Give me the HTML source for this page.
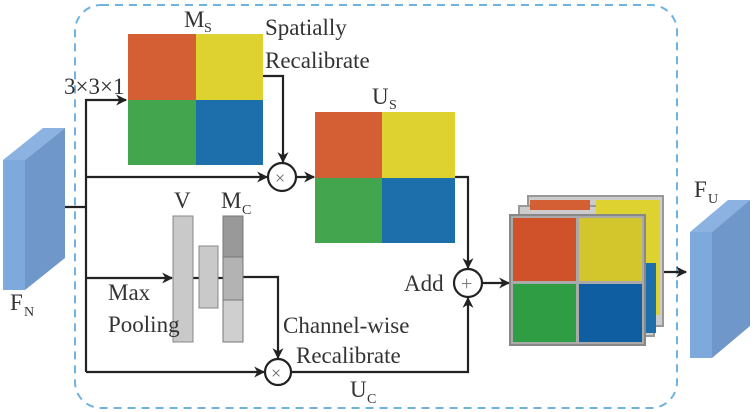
<!DOCTYPE html>
<html><head><meta charset="utf-8"><style>
html,body{margin:0;padding:0;background:#fff;}
svg{display:block;}
text{font-family:"Liberation Serif",serif;fill:#333;font-size:23px;}
.s{font-size:14px;}
</style></head><body>
<svg width="755" height="412" viewBox="0 0 755 412" xmlns="http://www.w3.org/2000/svg">
<defs>
<marker id="a" viewBox="0 0 10 10" refX="9" refY="5" markerWidth="13" markerHeight="11" orient="auto" markerUnits="userSpaceOnUse"><path d="M0,0 L10,5 L0,10 L3,5 z" fill="#222"/></marker>
</defs>
<rect x="75" y="5" width="602" height="403" rx="26" fill="none" stroke="#6fb3e0" stroke-width="2" stroke-dasharray="8,6"/>
<!-- F_N -->
<polygon points="3,160 25,160 65,128 43,128" fill="#8bb2e0"/>
<polygon points="25,160 65,128 65,258 25,290" fill="#6f97c9"/>
<rect x="3" y="160" width="22" height="130" fill="#7ea9dc"/>
<text x="10" y="310">F</text><text x="24" y="316" class="s">N</text>
<!-- M_S -->
<rect x="128" y="34" width="68" height="66" fill="#d55f34"/>
<rect x="196" y="34" width="67" height="66" fill="#ddd22f"/>
<rect x="128" y="100" width="68" height="65" fill="#43a64e"/>
<rect x="196" y="100" width="67" height="65" fill="#1c6fab"/>
<text x="184" y="27">M</text><text x="204" y="32" class="s">S</text>
<text x="265" y="35">Spatially</text>
<text x="265" y="68">Recalibrate</text>
<text x="64" y="94">3×3×1</text>
<g stroke="#222" stroke-width="2.2" fill="none">
<polyline points="65,207 86,207"/>
<polyline points="86,372 86,100 126,100" marker-end="url(#a)"/>
<polyline points="86,177 267,177" marker-end="url(#a)"/>
<polyline points="263,76 283,76 283,162" marker-end="url(#a)"/>
<polyline points="296,177 314,177" marker-end="url(#a)"/>
<polyline points="455,177 468,177 468,268" marker-end="url(#a)"/>
<polyline points="482,283 509,283" marker-end="url(#a)"/>
<polyline points="655,272 686,272" marker-end="url(#a)"/>
<polyline points="86,278 172,278" marker-end="url(#a)"/>
<polyline points="243,277 278,277 278,358" marker-end="url(#a)"/>
<polyline points="86,372 264,372" marker-end="url(#a)"/>
<polyline points="292,372 468,372 468,298" marker-end="url(#a)"/>
<line x1="193" y1="278" x2="199" y2="278"/><line x1="218" y1="278" x2="223" y2="278"/>
<circle cx="282" cy="177" r="14" fill="#fff"/>
<circle cx="468" cy="283" r="14" fill="#fff"/>
<circle cx="278" cy="372" r="13" fill="#fff"/>
</g>
<text x="275" y="184" style="font-size:18px;fill:#666">×</text>
<text x="271" y="379" style="font-size:18px;fill:#666">×</text>
<text x="461" y="290" style="font-size:20px;fill:#777">+</text>
<!-- U_S -->
<rect x="315" y="112" width="67" height="66" fill="#d55f34"/>
<rect x="382" y="112" width="73" height="66" fill="#ddd22f"/>
<rect x="315" y="178" width="67" height="65" fill="#43a64e"/>
<rect x="382" y="178" width="73" height="65" fill="#1c6fab"/>
<text x="372" y="104">U</text><text x="389" y="109" class="s">S</text>
<text x="404" y="291">Add</text>
<!-- bars -->
<rect x="173" y="216" width="20" height="126" fill="#c9c9c9" stroke="#888"/>
<rect x="199" y="246" width="19" height="62" fill="#c9c9c9" stroke="#888"/>
<rect x="223" y="216" width="20" height="41" fill="#999" stroke="#777"/>
<rect x="223" y="257" width="20" height="43" fill="#b3b3b3" stroke="#777"/>
<rect x="223" y="300" width="20" height="42" fill="#cfcfcf" stroke="#777"/>
<text x="174" y="208">V</text>
<text x="221" y="208">M</text><text x="242" y="214" class="s">C</text>
<text x="108" y="300">Max</text>
<text x="108" y="332">Pooling</text>
<text x="283" y="333">Channel-wise</text>
<text x="296" y="363">Recalibrate</text>
<text x="350" y="397">U</text><text x="367" y="403" class="s">C</text>
<!-- stack -->
<g stroke="#999" stroke-width="2">
<rect x="528" y="196" width="135" height="130" fill="#ccc"/>
<rect x="519" y="206" width="135" height="130" fill="#ccc"/>
</g>
<rect x="530" y="200" width="60" height="10" fill="#d55f34"/>
<rect x="596" y="200" width="64" height="115" fill="#ddd22f"/>
<rect x="640" y="263" width="16" height="70" fill="#1c6fab"/>
<rect x="510" y="215" width="135" height="130" fill="#aaa" stroke="#888" stroke-width="2"/>
<rect x="513" y="218" width="63" height="63" fill="#d0522a"/>
<rect x="579" y="218" width="63" height="63" fill="#d3c62c"/>
<rect x="513" y="284" width="63" height="58" fill="#2f9d44"/>
<rect x="579" y="284" width="63" height="58" fill="#0f5ea2"/>
<!-- F_U -->
<polygon points="690,232 712,232 750,200 728,200" fill="#8bb2e0"/>
<polygon points="712,232 750,200 750,326 712,358" fill="#6f97c9"/>
<rect x="690" y="232" width="22" height="126" fill="#7ea9dc"/>
<text x="694" y="197">F</text><text x="708" y="203" class="s">U</text>
</svg>
</body></html>
